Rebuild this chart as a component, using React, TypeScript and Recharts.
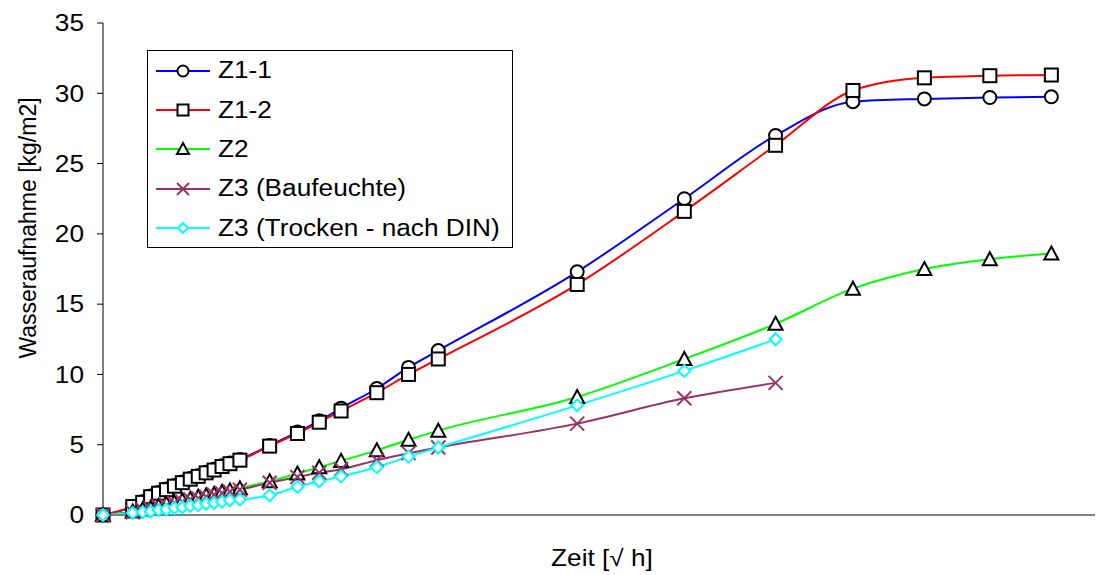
import React from 'react';
import { LineChart, Line, XAxis, YAxis, Label } from 'recharts';

const FONT = "Arial, 'Liberation Sans', sans-serif";
const SX = 1.14; // Text ist im Original horizontal gestreckt

// Zeit [√h] – Messzeitpunkte
const xStart = [0];
const xDense = [1.5, 2.0, 2.4, 2.8, 3.2, 3.6, 4.0, 4.4, 4.8, 5.2, 5.6, 6.0, 6.4, 6.9];
const xMid = [8.4, 9.8, 10.9, 12.0, 13.8, 15.4, 16.9, 23.9, 29.3, 33.9];
const xLate = [37.8, 41.4, 44.7, 47.8];

const xZ1 = [...xStart, ...xDense, ...xMid, ...xLate];
const xZ3 = [...xStart, ...xDense, ...xMid];

// Wasseraufnahme [kg/m2]
const z11 = [0, 0.6, 0.95, 1.35, 1.6, 1.85, 2.1, 2.35, 2.6, 2.8, 3.05, 3.25, 3.5, 3.7, 3.95,
  4.95, 5.9, 6.7, 7.6, 9.0, 10.5, 11.7, 17.3, 22.5, 27.0, 29.4, 29.6, 29.7, 29.75];
const z12 = [0, 0.6, 0.9, 1.3, 1.55, 1.8, 2.05, 2.3, 2.55, 2.75, 3.0, 3.2, 3.45, 3.65, 3.9,
  4.9, 5.8, 6.6, 7.4, 8.7, 10.0, 11.1, 16.4, 21.6, 26.3, 30.2, 31.1, 31.25, 31.3];
const z2 = [0, 0.25, 0.4, 0.5, 0.65, 0.8, 0.9, 1.05, 1.15, 1.3, 1.4, 1.5, 1.65, 1.75, 1.9,
  2.4, 2.95, 3.4, 3.85, 4.6, 5.35, 6.0, 8.4, 11.1, 13.6, 16.1, 17.5, 18.2, 18.6];
const z3Bau = [0, 0.2, 0.35, 0.45, 0.6, 0.7, 0.85, 0.95, 1.1, 1.2, 1.3, 1.45, 1.55, 1.65, 1.8,
  2.3, 2.7, 3.0, 3.25, 3.9, 4.4, 4.8, 6.5, 8.3, 9.4];
const z3Trocken = [0, 0.15, 0.2, 0.25, 0.35, 0.4, 0.5, 0.55, 0.65, 0.7, 0.8, 0.85, 0.95, 1.05, 1.1,
  1.4, 2.0, 2.4, 2.75, 3.4, 4.15, 4.8, 7.8, 10.25, 12.5];

const yTicks = [0, 5, 10, 15, 20, 25, 30, 35];

const toPoints = (xs: number[], ys: number[]) => xs.map((x, i) => ({ x, y: ys[i] }));

type Shape = 'circle' | 'square' | 'triangle' | 'cross' | 'diamond';

const series: { name: string; color: string; shape: Shape; data: { x: number; y: number }[] }[] = [
  { name: 'Z1-1', color: '#0000FF', shape: 'circle', data: toPoints(xZ1, z11) },
  { name: 'Z1-2', color: '#FF0000', shape: 'square', data: toPoints(xZ1, z12) },
  { name: 'Z2', color: '#00FF00', shape: 'triangle', data: toPoints(xZ1, z2) },
  { name: 'Z3 (Baufeuchte)', color: '#993366', shape: 'cross', data: toPoints(xZ3, z3Bau) },
  { name: 'Z3 (Trocken - nach DIN)', color: '#00FFFF', shape: 'diamond', data: toPoints(xZ3, z3Trocken) },
];

function Marker({ cx, cy, shape, color, s = 7 }: { cx: number; cy: number; shape: Shape; color: string; s?: number }) {
  const common = { fill: '#fff', stroke: '#000', strokeWidth: 2 };
  switch (shape) {
    case 'circle':
      return <circle cx={cx} cy={cy} r={s - 0.5} {...common} />;
    case 'square':
      return <rect x={cx - s + 0.5} y={cy - s + 0.5} width={2 * s - 1} height={2 * s - 1} {...common} />;
    case 'triangle':
      return <polygon points={`${cx},${cy - s} ${cx + s},${cy + s - 1} ${cx - s},${cy + s - 1}`} {...common} />;
    case 'cross':
      return (
        <g stroke={color} strokeWidth={2}>
          <line x1={cx - s} y1={cy - s} x2={cx + s} y2={cy + s} />
          <line x1={cx - s} y1={cy + s} x2={cx + s} y2={cy - s} />
        </g>
      );
    case 'diamond':
    default:
      return <polygon points={`${cx},${cy - s + 1} ${cx + s - 1},${cy} ${cx},${cy + s - 1} ${cx - s + 1},${cy}`} fill="#fff" stroke={color} strokeWidth={2} />;
  }
}

const dotFor = (name: string, shape: Shape, color: string) => (props: any) => (
  <g key={`${name}-${props.index}`}>
    <Marker cx={props.cx} cy={props.cy} shape={shape} color={color} />
  </g>
);

const YTick = (props: any) => {
  const { x, y, payload } = props;
  return (
    <text transform={`translate(${x},${y}) scale(${SX},1)`} textAnchor="end" dy="0.36em"
      fontSize={23} fontFamily={FONT} fill="#000">
      {payload.value}
    </text>
  );
};

function ChartLegend() {
  return (
    <div style={{
      position: 'absolute', left: 147, top: 50, width: 364, height: 196,
      border: '1px solid #000', background: '#fff', fontFamily: FONT,
    }}>
      {series.map((s) => (
        <div key={s.name} style={{ height: 39.4, display: 'flex', alignItems: 'center' }}>
          <svg width={64} height={24} style={{ marginLeft: 6, flex: 'none' }}>
            <line x1={2} y1={12} x2={56} y2={12} stroke={s.color} strokeWidth={2} />
            <Marker cx={29} cy={12} shape={s.shape} color={s.color} s={6} />
          </svg>
          <span style={{
            fontSize: 23, color: '#000', whiteSpace: 'nowrap', display: 'inline-block',
            transform: `scaleX(${SX})`, transformOrigin: 'left center',
          }}>
            {s.name}
          </span>
        </div>
      ))}
    </div>
  );
}

export default function App() {
  return (
    <div style={{ position: 'absolute', left: 0, top: 0, width: 1100, height: 575, background: '#fff' }}>
      <LineChart width={1100} height={575} margin={{ top: 23, right: 5, left: 0, bottom: 0 }}>
        <XAxis
          type="number"
          dataKey="x"
          domain={[0, 50]}
          ticks={[]}
          tick={false}
          tickLine={false}
          axisLine={{ stroke: '#808080', strokeWidth: 2 }}
          height={60}
        >
          <Label
            content={() => (
              <text transform={`translate(602,566) scale(${SX},1)`} textAnchor="middle"
                fontSize={23} fontFamily={FONT} fill="#000">
                Zeit [√ h]
              </text>
            )}
          />
        </XAxis>
        <YAxis
          type="number"
          domain={[0, 35]}
          ticks={yTicks}
          width={103}
          tickSize={6}
          tickMargin={13}
          axisLine={{ stroke: '#000', strokeWidth: 1 }}
          tickLine={{ stroke: '#000' }}
          tick={<YTick />}
        >
          <Label
            content={() => (
              <text transform="translate(28,228) rotate(-90)" textAnchor="middle" dy="0.36em"
                fontSize={23} fontFamily={FONT} fill="#000">
                Wasseraufnahme [kg/m2]
              </text>
            )}
          />
        </YAxis>
        {series.map((s) => (
          <Line
            key={s.name}
            data={s.data}
            dataKey="y"
            name={s.name}
            type="monotone"
            stroke={s.color}
            strokeWidth={2}
            dot={dotFor(s.name, s.shape, s.color)}
            activeDot={false}
            isAnimationActive={false}
          />
        ))}
      </LineChart>
      <ChartLegend />
    </div>
  );
}
